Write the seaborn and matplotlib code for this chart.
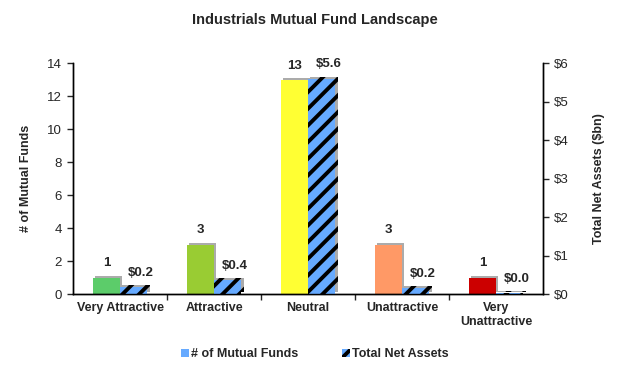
# Industrials mutual fund landscape - counts and assets by rating

import numpy as np
import pandas as pd
import matplotlib
matplotlib.use("Agg")
import matplotlib.pyplot as plt
import matplotlib.patheffects as pe
from matplotlib.patches import Patch
import seaborn as sns

categories = ["Very Attractive", "Attractive", "Neutral", "Unattractive", "Very\nUnattractive"]
fund_counts = [1, 3, 13, 3, 1]
net_assets = [0.18, 0.36, 5.6, 0.15, 0.02]
count_labels = ["1", "3", "13", "3", "1"]
asset_labels = ["$0.2", "$0.4", "$5.6", "$0.2", "$0.0"]
bar_colors = ["#5ccc6a", "#99cc33", "#ffff33", "#ff9966", "#cc0000"]

series = ["# of Mutual Funds", "Total Net Assets"]

sns.set_style("white")
plt.rcParams["font.family"] = ["Liberation Sans", "DejaVu Sans"]
plt.rcParams["hatch.linewidth"] = 2.8
plt.rcParams["hatch.color"] = "black"

# one frame per axis; the other series left empty so the dodge slots line up
df_count = pd.DataFrame({
    "cat": categories * 2,
    "series": [series[0]] * 5 + [series[1]] * 5,
    "value": fund_counts + [np.nan] * 5,
})
df_assets = pd.DataFrame({
    "cat": categories * 2,
    "series": [series[0]] * 5 + [series[1]] * 5,
    "value": [np.nan] * 5 + net_assets,
})

fig = plt.figure(figsize=(6.3, 3.68), dpi=100)
ax = fig.add_axes([0.116, 0.201, 0.746, 0.627])
ax2 = ax.twinx()

sns.barplot(data=df_count, x="cat", y="value", hue="series", hue_order=series,
            order=categories, width=0.58, ax=ax, legend=False)
sns.barplot(data=df_assets, x="cat", y="value", hue="series", hue_order=series,
            order=categories, width=0.58, ax=ax2, legend=False)

shadow = [pe.SimplePatchShadow(offset=(1.6, 1.4), shadow_rgbFace="#888888", alpha=0.7), pe.Normal()]

for p in ax.patches:
    h = p.get_height()
    if not np.isfinite(h) or h == 0:
        continue
    i = int(round(p.get_x() + p.get_width() / 2))
    p.set_facecolor(bar_colors[i])
    p.set_edgecolor("none")
    p.set_path_effects(shadow)
    ax.text(p.get_x() + p.get_width() / 2, h + 0.5, count_labels[i], ha="center", va="bottom",
            fontsize=9.5, fontweight="bold")

for p in ax2.patches:
    h = p.get_height()
    if not np.isfinite(h):
        continue
    i = int(round(p.get_x() + p.get_width() / 2))
    p.set_facecolor("#66aaff")
    p.set_edgecolor("black")
    p.set_linewidth(0)
    p.set_hatch("//")
    p.set_path_effects(shadow)
    ax2.text(p.get_x() + p.get_width() / 2 + 0.08, h + 0.22, asset_labels[i], ha="center", va="bottom",
             fontsize=9.5, fontweight="bold")

ax.set_xlim(-0.5, 4.5)
ax.set_ylim(0, 14)
ax2.set_ylim(0, 6)
ax.set_yticks(range(0, 15, 2))
ax2.set_yticks(range(0, 7))
ax2.set_yticklabels([f"${v}" for v in range(0, 7)])

ax.set_xticks(range(5))
ax.set_xticklabels(categories, fontweight="bold", fontsize=9)
ax.set_xticks(np.arange(0.5, 4.5, 1), minor=True)
ax.tick_params(axis="x", which="major", length=0, pad=6)
ax.tick_params(axis="x", which="minor", length=4, width=1, direction="out", bottom=True)
ax.tick_params(axis="y", length=4, width=1, direction="out", left=True, labelsize=9.5, pad=4)
ax2.tick_params(axis="y", length=4, width=1, direction="out", right=True, labelsize=9.5, pad=4)

ax.set_xlabel("")
ax.set_ylabel("# of Mutual Funds", fontsize=9, fontweight="bold", labelpad=11)
ax2.set_ylabel("Total Net Assets ($bn)", fontsize=9, fontweight="bold", rotation=90, labelpad=17)

for a in (ax, ax2):
    a.spines["top"].set_visible(False)
    for s in ("left", "bottom", "right"):
        a.spines[s].set_color("black")
        a.spines[s].set_linewidth(1)

fig.suptitle("Industrials Mutual Fund Landscape", fontsize=10.5, fontweight="bold", y=0.965)

handles = [Patch(facecolor="#66aaff", edgecolor="none"),
           Patch(facecolor="#66aaff", edgecolor="black", hatch="//", linewidth=0)]
fig.legend(handles, series, loc="lower center", bbox_to_anchor=(0.5, -0.01), ncol=2, frameon=False,
           prop={"weight": "bold", "size": 9}, handlelength=0.6, handleheight=0.6,
           handletextpad=0.2, columnspacing=3.5)

fig.savefig("out.png", dpi=100)
